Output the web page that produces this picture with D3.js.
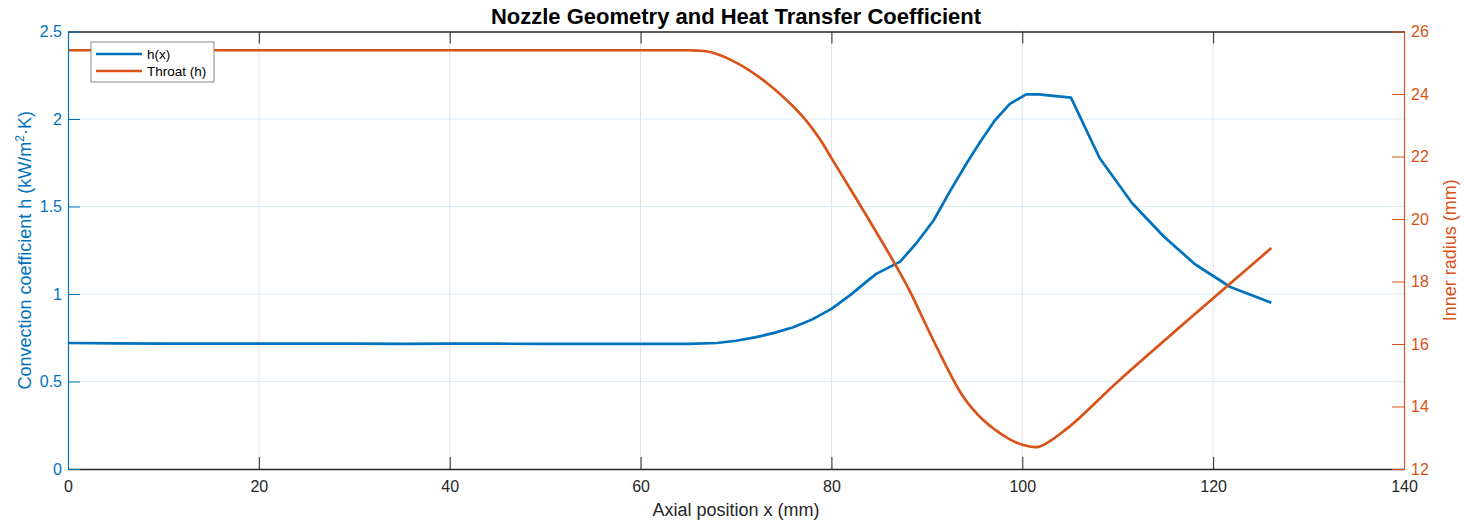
<!DOCTYPE html>
<html>
<head>
<meta charset="utf-8">
<script src="https://cdn.jsdelivr.net/npm/d3@7"></script>
<style>
  html, body { margin: 0; padding: 0; background: #fff; }
  svg { display: block; font-family: "Liberation Sans", Arial, Helvetica, sans-serif; }
</style>
</head>
<body>
<svg id="chart"></svg>
<script>
// axial positions (mm) and h(x) in kW/m^2.K
var hX = [0, 5, 10, 15, 20, 25, 30, 35, 40, 45, 50, 55, 60, 65, 68, 70, 72, 74, 76, 78, 80, 82, 84, 84.7, 87.2,
  88.9, 90.7, 92.4, 94.2, 95.6, 97.1, 98.7, 100.4, 101.7, 105.1, 108.1, 111.5, 114.8, 118.1, 121.8, 126.1];
var hVals = [0.72, 0.718, 0.716, 0.716, 0.716, 0.716, 0.716, 0.715, 0.716, 0.716, 0.715, 0.715, 0.715, 0.715, 0.72, 0.733, 0.752, 0.778, 0.81, 0.855, 0.915, 0.995, 1.085, 1.115, 1.185,
  1.29, 1.42, 1.585, 1.75, 1.87, 1.99, 2.086, 2.141, 2.141, 2.122, 1.777, 1.52, 1.33, 1.17, 1.04, 0.95];

// inner radius profile (mm)
var rX = [0, 20, 40, 60, 64.4, 66, 67.6, 70.4, 73.2, 76, 77.4, 78.8, 80.1, 83, 86.7, 88.2, 91, 93.8, 95.9, 98.7, 100.1, 101.7, 104.7, 110.2, 126.1];
var rVals = [25.4, 25.4, 25.4, 25.4, 25.4, 25.39, 25.32, 24.94, 24.36, 23.6, 23.13, 22.55, 21.9, 20.45, 18.54, 17.7, 15.92, 14.32, 13.57, 12.95, 12.77, 12.71, 13.3, 14.85, 19.07];

var xTicks = [0, 20, 40, 60, 80, 100, 120, 140];
var hTicks = [0, 0.5, 1, 1.5, 2, 2.5];
var rTicks = [12, 14, 16, 18, 20, 22, 24, 26];

(function drawChart() {
  var W = 1464, H = 522;
  var pLeft = 68, pRight = 1404, pTop = 31.5, pBottom = 469;
  var blue = '#0072BD', orange = '#D95319', axisGrey = '#262626';
  var tickLen = 12;

  var svg = d3.select('#chart').attr('width', W).attr('height', H);

  var x = d3.scaleLinear().domain([0, 140]).range([pLeft, pRight]);
  var yL = d3.scaleLinear().domain([0, 2.5]).range([pBottom, pTop]);
  var yR = d3.scaleLinear().domain([12, 26]).range([pBottom, pTop]);

  // grid
  svg.append('g').selectAll('line').data(xTicks.slice(1, -1)).enter().append('line')
    .attr('x1', function(d) { return x(d); }).attr('x2', function(d) { return x(d); })
    .attr('y1', pTop).attr('y2', pBottom)
    .attr('stroke', '#e2e2e2').attr('stroke-width', 1);
  svg.append('g').selectAll('line').data(hTicks.slice(1, -1)).enter().append('line')
    .attr('x1', pLeft).attr('x2', pRight)
    .attr('y1', function(d) { return yL(d); }).attr('y2', function(d) { return yL(d); })
    .attr('stroke', '#dcebf6').attr('stroke-width', 1);

  // data lines
  var hLine = d3.line()
    .x(function(d, i) { return x(hX[i]); })
    .y(function(d) { return yL(d); });
  var rLine = d3.line()
    .x(function(d, i) { return x(rX[i]); })
    .y(function(d) { return yR(d); })
    .curve(d3.curveCatmullRom.alpha(0.5));

  svg.append('path').datum(hVals).attr('d', hLine)
    .attr('fill', 'none').attr('stroke', blue).attr('stroke-width', 2.7).attr('stroke-linejoin', 'round');
  svg.append('path').datum(rVals).attr('d', rLine)
    .attr('fill', 'none').attr('stroke', orange).attr('stroke-width', 2.7).attr('stroke-linejoin', 'round');

  // bottom and top axes
  var gx = svg.append('g').attr('transform', 'translate(0,' + pBottom + ')')
    .call(d3.axisBottom(x).tickValues(xTicks).tickSizeInner(-tickLen).tickSizeOuter(0).tickPadding(7));
  gx.select('.domain').attr('stroke', axisGrey).attr('stroke-width', 1.3);
  gx.selectAll('.tick line').attr('stroke', axisGrey);
  gx.selectAll('.tick text').attr('fill', axisGrey).style('font-size', '16px').attr('dy', '1em');

  var gTop = svg.append('g').attr('transform', 'translate(0,' + pTop + ')')
    .call(d3.axisTop(x).tickValues(xTicks).tickSizeInner(-tickLen).tickSizeOuter(0).tickFormat(''));
  gTop.select('.domain').attr('stroke', axisGrey).attr('stroke-width', 1.3);
  gTop.selectAll('.tick line').attr('stroke', axisGrey);

  // left axis
  var gL = svg.append('g').attr('transform', 'translate(' + pLeft + ',0)')
    .call(d3.axisLeft(yL).tickValues(hTicks).tickSizeInner(-tickLen).tickSizeOuter(0).tickPadding(6)
      .tickFormat(d3.format('~g')));
  gL.select('.domain').attr('stroke', blue).attr('stroke-width', 1.2);
  gL.selectAll('.tick line').attr('stroke', blue);
  gL.selectAll('.tick text').attr('fill', blue).style('font-size', '16px');

  // right axis
  var gR = svg.append('g').attr('transform', 'translate(' + pRight + ',0)')
    .call(d3.axisRight(yR).tickValues(rTicks).tickSizeInner(-tickLen).tickSizeOuter(0).tickPadding(7));
  gR.select('.domain').attr('stroke', orange).attr('stroke-width', 1.2);
  gR.selectAll('.tick line').attr('stroke', orange);
  gR.selectAll('.tick text').attr('fill', orange).style('font-size', '16px');

  // titles
  svg.append('text').attr('x', (pLeft + pRight) / 2).attr('y', 24)
    .attr('text-anchor', 'middle').attr('font-weight', 'bold').attr('font-size', 22).attr('fill', '#000')
    .text('Nozzle Geometry and Heat Transfer Coefficient');

  svg.append('text').attr('x', (pLeft + pRight) / 2).attr('y', 516)
    .attr('text-anchor', 'middle').attr('font-size', 18).attr('fill', axisGrey)
    .text('Axial position x (mm)');

  var ylab = svg.append('text')
    .attr('transform', 'translate(31,' + (pTop + pBottom) / 2 + ') rotate(-90)')
    .attr('text-anchor', 'middle').attr('font-size', 18).attr('fill', blue);
  ylab.append('tspan').text('Convection coefficient h (kW/m');
  ylab.append('tspan').attr('dy', -7).attr('font-size', 12).text('2');
  ylab.append('tspan').attr('dy', 7).text('\u00b7K)');

  svg.append('text')
    .attr('transform', 'translate(1456,' + (pTop + pBottom) / 2 + ') rotate(-90)')
    .attr('text-anchor', 'middle').attr('font-size', 18).attr('fill', orange)
    .text('Inner radius (mm)');

  // legend
  var legend = svg.append('g').attr('transform', 'translate(91,42)');
  legend.append('rect').attr('width', 123).attr('height', 40)
    .attr('fill', '#fff').attr('stroke', '#8a8a8a').attr('stroke-width', 1);
  var legendItems = [{ label: 'h(x)', color: blue }, { label: 'Throat (h)', color: orange }];
  var li = legend.selectAll('.li').data(legendItems).enter().append('g')
    .attr('transform', function(d, i) { return 'translate(0,' + (12 + i * 17) + ')'; });
  li.append('line').attr('x1', 5).attr('x2', 51).attr('y1', 0).attr('y2', 0)
    .attr('stroke', function(d) { return d.color; }).attr('stroke-width', 2.7);
  li.append('text').attr('x', 56).attr('y', 5).attr('font-size', 13.5).attr('fill', '#000')
    .text(function(d) { return d.label; });
})();
</script>
</body>
</html>
